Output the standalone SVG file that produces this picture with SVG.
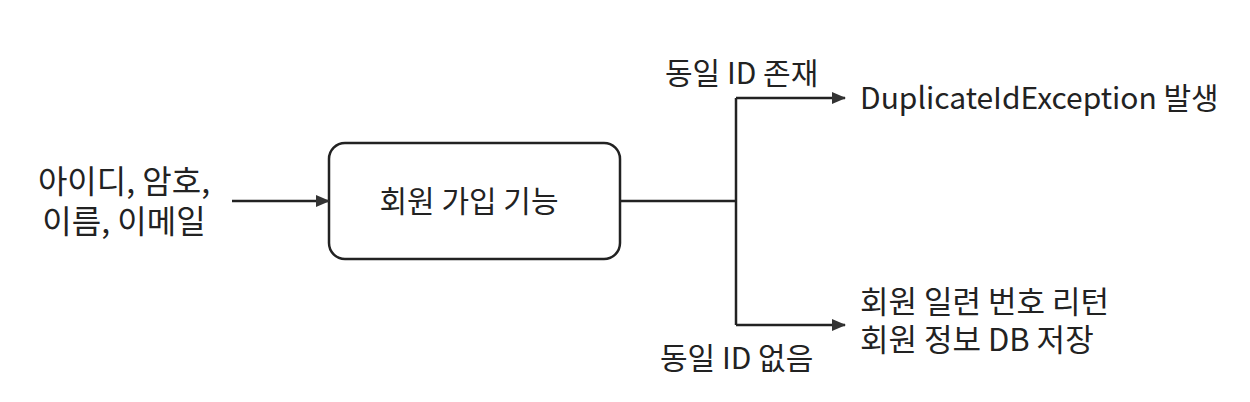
<svg xmlns="http://www.w3.org/2000/svg" width="1250" height="402" viewBox="0 0 1250 402">
<style>
text{font-family:"Noto Sans CJK KR","Noto Sans",sans-serif;font-size:30px;fill:#222}
.big{font-size:32px}
.ln{stroke:#222;stroke-width:2.5;fill:none}
</style>
<defs>
<marker id="ah" markerWidth="14" markerHeight="12" refX="13" refY="6" orient="auto" markerUnits="userSpaceOnUse">
<path d="M0,0 L14,6 L0,12 Z" fill="#333"/>
</marker>
</defs>
<rect width="1250" height="402" fill="#fff"/>
<g id="input">
<text class="big" x="124" y="193" text-anchor="middle">아이디, 암호,</text>
<text class="big" x="124" y="233" text-anchor="middle">이름, 이메일</text>
</g>
<g id="signup">
<rect x="329" y="143" width="291" height="116" rx="16" class="ln"/>
<text x="469" y="212" text-anchor="middle">회원 가입 기능</text>
</g>
<g id="dup">
<text x="860" y="109">DuplicateIdException 발생</text>
</g>
<g id="ok">
<text x="860" y="313" style="font-size:31px">회원 일련 번호 리턴</text>
<text x="860" y="351" style="font-size:31px">회원 정보 DB 저장</text>
</g>
<g id="connectors">
<line x1="232" y1="201" x2="329" y2="201" class="ln" marker-end="url(#ah)"/>
<polyline points="620,201 736,201" class="ln"/>
<polyline points="736,98 736,325" class="ln"/>
<line x1="736" y1="98" x2="845" y2="98" class="ln" marker-end="url(#ah)"/>
<line x1="736" y1="325" x2="845" y2="325" class="ln" marker-end="url(#ah)"/>
<text x="665" y="84">동일 ID 존재</text>
<text x="660" y="369">동일 ID 없음</text>
</g>
</svg>
